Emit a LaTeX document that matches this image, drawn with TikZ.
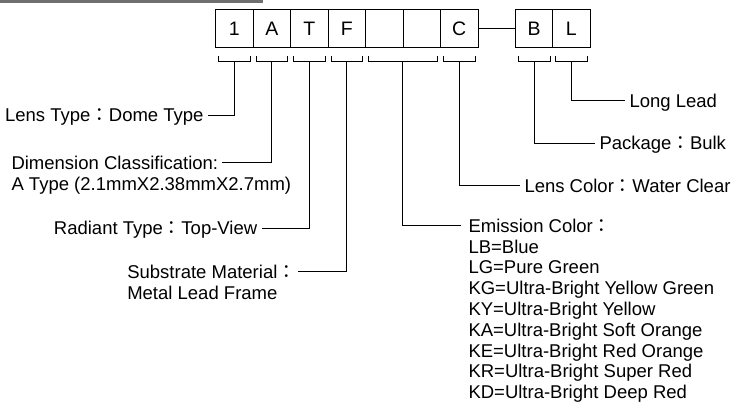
\documentclass[tikz,border=0pt]{standalone}
\usepackage{fontspec}
\setmainfont{Liberation Sans}
\newfontfamily\cjkfont{Noto Sans CJK TC}
\newcommand\fwc{{\cjkfont ：}}
\usetikzlibrary{calc}
\definecolor{bargray}{RGB}{112,112,112}
\begin{document}
\begin{tikzpicture}[x=1pt,y=-1pt,
  font=\fontsize{18.5}{20.8}\selectfont, line width=1pt,
  cell/.style={draw, minimum width=37.5pt, minimum height=38pt, inner sep=0pt,
    font=\fontsize{19.5}{21}\selectfont},
  lbl/.style={inner xsep=4pt, inner ysep=0pt, text height=13.25pt, text depth=0pt},
  multi/.style={inner sep=0pt, align=left, anchor=base west},
  brk/.style={line width=1pt}]
\useasboundingbox (0,0) rectangle (735,402);
\fill[bargray] (0,0) rectangle (263,2.7);
% cells
\node[cell] (c1) at (234.25,28.3) {1};
\node[cell] (c2) at (271.75,28.3) {A};
\node[cell] (c3) at (309.25,28.3) {T};
\node[cell] (c4) at (346.75,28.3) {F};
\node[cell] (c5) at (384.25,28.3) {};
\node[cell] (c6) at (421.75,28.3) {};
\node[cell] (c7) at (459.25,28.3) {C};
\node[cell] (cB) at (534,28.3) {B};
\node[cell] (cL) at (571.35,28.3) {L};
\draw (c7.east) -- (cB.west);
% brackets
\draw[brk] (218.5,56) -- (218.5,61.7) -- (250.3,61.7) -- (250.3,56);
\draw[brk] (256,56) -- (256,61.7) -- (287.5,61.7) -- (287.5,56);
\draw[brk] (293.5,56) -- (293.5,61.7) -- (325,61.7) -- (325,56);
\draw[brk] (331,56) -- (331,61.7) -- (362.5,61.7) -- (362.5,56);
\draw[brk] (368,56) -- (368,61.7) -- (437.5,61.7) -- (437.5,56);
\draw[brk] (443.5,56) -- (443.5,61.7) -- (475,61.7) -- (475,56);
\draw[brk] (518,56) -- (518,61.7) -- (550,61.7) -- (550,56);
\draw[brk] (555.7,56) -- (555.7,61.7) -- (587.3,61.7) -- (587.3,56);
\coordinate (b1) at (234.25,61.7);
\coordinate (b2) at (271.75,61.7);
\coordinate (b3) at (309.25,61.7);
\coordinate (b4) at (346.75,61.7);
\coordinate (b56) at (402.75,61.7);
\coordinate (b7) at (459.25,61.7);
\coordinate (bB) at (534,61.7);
\coordinate (bL) at (571.5,61.7);
% labels
\node[lbl, anchor=east] (t1) at (208,115) {Lens Type\fwc Dome Type};
\node[multi] (t2) at (11,190.1) {Dimension Classification:\\A Type (2.1mmX2.38mmX2.7mm)};
\coordinate (t2c) at (222,162.7);
\node[lbl, anchor=east] (t3) at (261.7,228.3) {Radiant Type\fwc Top-View};
\node[multi] (t4) at (126.8,299.1) {Substrate Material\fwc\\Metal Lead Frame};
\coordinate (t4c) at (297.7,271);
\node[multi] (t5) at (468,398.7) {Emission Color\fwc\\LB=Blue\\LG=Pure Green\\KG=Ultra-Bright Yellow Green\\KY=Ultra-Bright Yellow\\KA=Ultra-Bright Soft Orange\\KE=Ultra-Bright Red Orange\\KR=Ultra-Bright Super Red\\KD=Ultra-Bright Deep Red};
\coordinate (t5c) at (461,225.7);
\node[lbl, anchor=west] (t7) at (520,185.7) {Lens Color\fwc Water Clear};
\node[lbl, anchor=west] (tB) at (595,143.3) {Package\fwc Bulk};
\node[lbl, anchor=west] (tL) at (625,100.5) {Long Lead};
% connectors
\draw (b1) |- (t1.east);
\draw (b2) |- (t2c);
\draw (b3) |- (t3.east);
\draw (b4) |- (t4c);
\draw (b56) |- (t5c);
\draw (b7) |- (t7.west);
\draw (bB) |- (tB.west);
\draw (bL) |- (tL.west);
\end{tikzpicture}
\end{document}
